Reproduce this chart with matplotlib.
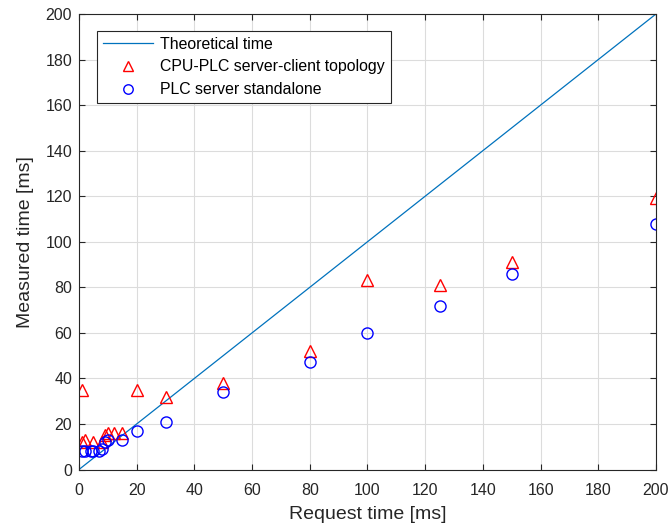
import matplotlib
matplotlib.use("Agg")
import matplotlib.pyplot as plt

plt.rcParams['font.family'] = ['Liberation Sans', 'DejaVu Sans']

theory_x = [0, 200]
theory_y = [0, 200]

cpu_x = [1, 1, 2, 5, 8, 9, 10, 12, 15, 20, 30, 50, 80, 100, 125, 150, 200]
cpu_y = [35, 12, 13, 12, 12, 15, 16, 16, 16, 35, 32, 38, 52, 83, 81, 91, 119]

plc_x = [1, 2, 4, 5, 7, 8, 9, 10, 15, 20, 30, 50, 80, 100, 125, 150, 200]
plc_y = [8, 8, 8, 8, 8, 9, 12, 13, 13, 17, 21, 34, 47, 60, 72, 86, 108]

fig = plt.figure(figsize=(6.7, 5.26), dpi=100)
ax = fig.add_axes([0.1179, 0.1074, 0.9791 - 0.1179, 0.9734 - 0.1074])

ax.plot(theory_x, theory_y, color='#0072BD', lw=0.9, label='Theoretical time')
ax.plot(cpu_x, cpu_y, linestyle='none', marker='^', markersize=8, markerfacecolor='none',
        markeredgecolor='red', markeredgewidth=1.0, label='CPU-PLC server-client topology')
ax.plot(plc_x, plc_y, linestyle='none', marker='o', markersize=8, markerfacecolor='none',
        markeredgecolor='blue', markeredgewidth=1.0, label='PLC server standalone')

ax.set_xlim(0, 200)
ax.set_ylim(0, 200)
ax.set_xticks(range(0, 201, 20))
ax.set_yticks(range(0, 201, 20))
ax.grid(True, color='#dcdcdc', lw=0.8)
ax.set_axisbelow(True)
ax.tick_params(direction='in', length=4, colors='#262626', labelsize=11.5, top=True, right=True,
               labeltop=False, labelright=False)
ax.tick_params(axis='x', pad=9.5)
ax.tick_params(axis='y', pad=5)
for s in ax.spines.values():
    s.set_color('#262626')
    s.set_linewidth(0.8)

ax.set_xlabel('Request time [ms]', fontsize=14, color='#262626', labelpad=6)
ax.set_ylabel('Measured time [ms]', fontsize=14, color='#262626', labelpad=8)

leg = ax.legend(loc='upper left', bbox_to_anchor=(0.0312, 0.9627), fontsize=11.4, frameon=True,
                fancybox=False, edgecolor='#262626', framealpha=1, borderpad=0.35,
                borderaxespad=0, handlelength=3.2, labelspacing=0.5, handletextpad=0.45,
                markerscale=0.85)
leg.get_frame().set_linewidth(0.8)

fig.savefig('out.png', dpi=100)
